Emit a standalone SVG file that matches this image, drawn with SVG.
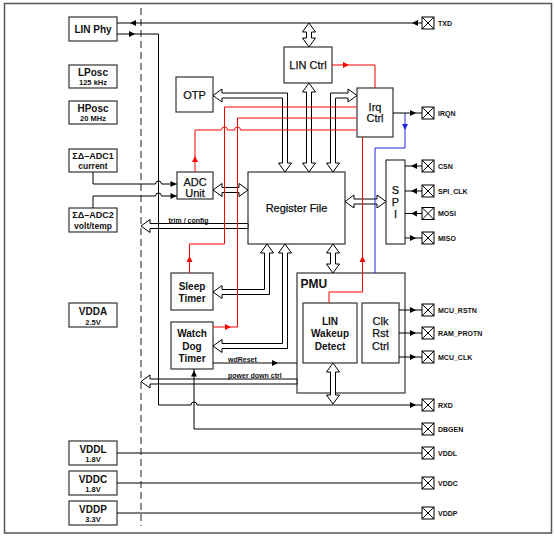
<svg xmlns="http://www.w3.org/2000/svg" width="554" height="536" viewBox="0 0 554 536">
<defs>
<style>
.frame{fill:#fff;stroke:#555;stroke-width:1.5}
.dash{fill:none;stroke:#555;stroke-width:1.3;stroke-dasharray:7,4}
.box{fill:#fff;stroke:#333;stroke-width:1.2}
.ln{fill:none;stroke:#000;stroke-width:1}
.red{fill:none;stroke:#f00;stroke-width:1}
.blue{fill:none;stroke:#2222dd;stroke-width:1}
.bus{fill:#fff;stroke:#000;stroke-width:1;stroke-linejoin:miter}
.t{font-family:"Liberation Sans",Arial,sans-serif;fill:#111;text-anchor:middle}
.n11{font-size:11px;stroke:#111;stroke-width:0.25}
.b10{font-size:10px;font-weight:bold}
.b9{font-size:9px;font-weight:bold}
.b85{font-size:8.5px;font-weight:bold}
.s75{font-size:7.5px;font-weight:bold}
.pl{font-family:"Liberation Sans",Arial,sans-serif;font-size:7px;font-weight:bold;fill:#111}
.lab{font-family:"Liberation Sans",Arial,sans-serif;font-size:7px;font-weight:bold;fill:#111}
.pad{fill:#fff;stroke:#000;stroke-width:1}
</style>
<path id="ah" d="M0,0 L-6,-3 L-6,3 Z" fill="#000"/>
<path id="ahr" d="M0,0 L-6,-3 L-6,3 Z" fill="#f00"/>
<path id="ahb" d="M0,0 L-6,-3 L-6,3 Z" fill="#2222dd"/>
<g id="padsym"><rect class="pad" x="0" y="-6" width="12" height="12"/><path class="ln" d="M0,-6 L12,6 M0,6 L12,-6"/></g>
</defs>

<rect class="frame" x="4.5" y="3.5" width="547" height="529.5"/>
<line class="dash" x1="141" y1="8" x2="141" y2="526"/>

<g id="lin-phy"><rect class="box" x="69" y="17" width="48" height="24"/><text class="t b10" x="93" y="32.5">LIN Phy</text></g>
<g id="lposc"><rect class="box" x="69" y="65" width="48" height="23"/><text class="t b10" x="93" y="76">LPosc</text><text class="t s75" x="93" y="85">125 kHz</text></g>
<g id="hposc"><rect class="box" x="69" y="101" width="48" height="23"/><text class="t b10" x="93" y="112">HPosc</text><text class="t s75" x="93" y="121">20 MHz</text></g>
<g id="adc1"><rect class="box" x="69" y="149" width="48" height="23"/><text class="t b9" x="93" y="158.5">ΣΔ–ADC1</text><text class="t b85" x="93" y="168.5">current</text></g>
<g id="adc2"><rect class="box" x="69" y="208" width="48" height="24"/><text class="t b9" x="93" y="218">ΣΔ–ADC2</text><text class="t b85" x="93" y="228.5">volt/temp</text></g>
<g id="vdda"><rect class="box" x="69" y="303" width="48" height="24"/><text class="t b10" x="93" y="315">VDDA</text><text class="t s75" x="93" y="324.5">2.5V</text></g>
<g id="vddl"><rect class="box" x="69" y="441" width="48" height="24"/><text class="t b10" x="93" y="452.5">VDDL</text><text class="t s75" x="93" y="462">1.8V</text></g>
<g id="vddc"><rect class="box" x="69" y="471" width="48" height="24"/><text class="t b10" x="93" y="482.5">VDDC</text><text class="t s75" x="93" y="492">1.8V</text></g>
<g id="vddp"><rect class="box" x="69" y="501" width="48" height="24"/><text class="t b10" x="93" y="512.5">VDDP</text><text class="t s75" x="93" y="522">3.3V</text></g>

<g id="otp"><rect class="box" x="176" y="77" width="37" height="35"/><text class="t n11" x="194.5" y="98.5">OTP</text></g>
<g id="lin-ctrl"><rect class="box" x="284" y="47" width="48" height="36"/><text class="t n11" x="308" y="69">LIN Ctrl</text></g>
<g id="irq-ctrl"><rect class="box" x="357" y="88" width="36" height="49"/><text class="t n11" x="375" y="110.5">Irq</text><text class="t n11" x="375" y="122">Ctrl</text></g>
<g id="adc-unit"><rect class="box" x="177" y="172" width="36" height="27"/><text class="t n11" x="195" y="186">ADC</text><text class="t n11" x="195" y="197">Unit</text></g>
<g id="register-file"><rect class="box" x="248" y="172" width="97" height="72"/><text class="t n11" x="296.5" y="212">Register File</text></g>
<g id="spi"><rect class="box" x="386" y="160" width="19" height="84"/><text class="t n11" x="395.5" y="193.5">S</text><text class="t n11" x="395.5" y="205.5">P</text><text class="t n11" x="395.5" y="217.5">I</text></g>
<g id="sleep-timer"><rect class="box" x="171" y="273" width="42" height="37"/><text class="t b10" x="192" y="289.5">Sleep</text><text class="t b10" x="192" y="302">Timer</text></g>
<g id="watchdog-timer"><rect class="box" x="171" y="322" width="42" height="47"/><text class="t b10" x="192" y="337">Watch</text><text class="t b10" x="192" y="349.5">Dog</text><text class="t b10" x="192" y="361.5">Timer</text></g>
<g id="pmu"><rect class="box" x="297" y="273" width="108" height="120"/><text class="t" style="font-size:12px;font-weight:bold;text-anchor:start" x="300.5" y="287.5">PMU</text></g>
<g id="lin-wakeup"><rect class="box" x="303" y="303" width="54" height="60"/><text class="t b10" x="330" y="324.5">LIN</text><text class="t b10" x="330" y="337">Wakeup</text><text class="t b10" x="330" y="349.5">Detect</text></g>
<g id="clk-rst-ctrl"><rect class="box" x="362" y="303" width="37" height="60"/><text class="t n11" x="380.5" y="324.5">Clk</text><text class="t n11" x="380.5" y="337">Rst</text><text class="t n11" x="380.5" y="349.5">Ctrl</text></g>

<g id="connectors">
<g id="buses">
<polygon class="bus" points="309,23 315.5,32 311.5,32 311.5,38 315.5,38 309,47 302.5,38 306.5,38 306.5,32 302.5,32"/>
<polygon class="bus" points="309,83 315.5,92 311.5,92 311.5,163 315.5,163 309,172 302.5,163 306.5,163 306.5,92 302.5,92"/>
<polygon class="bus" points="213,95.5 222,89 222,93 287.5,93 287.5,163 291.5,163 285,172 278.5,163 282.5,163 282.5,98 222,98 222,102"/>
<polygon class="bus" points="333,172 339.5,163 335.5,163 335.5,98 348,98 348,102 357,95.5 348,89 348,93 330.5,93 330.5,163 326.5,163"/>
<polygon class="bus" points="213,190 222,183.5 222,187.5 239,187.5 239,183.5 248,190 239,196.5 239,192.5 222,192.5 222,196.5"/>
<polygon class="bus" points="345,201.5 354,195 354,199 377,199 377,195 386,201.5 377,208 377,204 354,204 354,208"/>
<polygon class="bus" points="141,226 150,219.5 150,223.5 248,223.5 248,228.5 150,228.5 150,232.5"/>
<polygon class="bus" points="333,244 339.5,253 335.5,253 335.5,264 339.5,264 333,273 326.5,264 330.5,264 330.5,253 326.5,253"/>
<polygon class="bus" points="267,244 273.5,253 269.5,253 269.5,294.5 222,294.5 222,298.5 213,292 222,285.5 222,289.5 264.5,289.5 264.5,253 260.5,253"/>
<polygon class="bus" points="285,244 291.5,253 287.5,253 287.5,348.5 222,348.5 222,352.5 213,346 222,339.5 222,343.5 282.5,343.5 282.5,253 278.5,253"/>
<polygon class="bus" points="141,381.5 150,375 150,379 297,379 297,384 150,384 150,388"/>
<polygon class="bus" points="333,363 339.5,372 335.5,372 335.5,395 339.5,395 333,404 326.5,395 330.5,395 330.5,372 326.5,372"/>
</g>
<g id="irq-lines">
<path class="red" d="M332,65 L375,65 L375,88"/>
<use href="#ahr" transform="translate(349,65)"/>
<path class="red" d="M357,107 L224.5,107 L224.5,244 L189.5,244 L189.5,273"/>
<use href="#ahr" transform="translate(189.5,256) rotate(-90)"/>
<path class="red" d="M357,118 L237.5,118 L237.5,327 L213,327"/>
<use href="#ahr" transform="translate(231,327)"/>
<path class="red" d="M357,130 L240.5,130 A3,3 0 0 0 234.5,130 L227.5,130 A3,3 0 0 0 221.5,130 L195,130 L195,172"/>
<use href="#ahr" transform="translate(195,156) rotate(-90)"/>
<path class="red" d="M329,303 L329,292 L362.5,292 L362.5,137"/>
<use href="#ahr" transform="translate(362.5,256) rotate(-90)"/>
<path class="blue" d="M405,113 L405,148 L375,148 L375,273"/>
<use href="#ahb" transform="translate(405,130) rotate(90)"/>
</g>
<g id="signals">
<path class="ln" d="M117,23 L422,23"/>
<use href="#ah" transform="translate(130,23) rotate(180)"/>
<use href="#ah" transform="translate(412,23) rotate(180)"/>
<path class="ln" d="M117,34 L158.5,34 L158.5,405 L191,405 A3,3 0 0 1 197,405 L422,405"/>
<use href="#ah" transform="translate(135,34)"/>
<use href="#ah" transform="translate(416,405)"/>
<path class="ln" d="M93,172 L93,184 L155.5,184 A3,3 0 0 1 161.5,184 L177,184"/>
<use href="#ah" transform="translate(176.5,184)"/>
<path class="ln" d="M93,208 L93,196 L155.5,196 A3,3 0 0 1 161.5,196 L177,196"/>
<use href="#ah" transform="translate(176.5,196)"/>
<path class="ln" d="M393,113 L422,113"/>
<use href="#ah" transform="translate(416,113)"/>
<path class="ln" d="M405,166 L422,166 M405,191 L422,191 M405,213.5 L422,213.5 M405,238 L422,238"/>
<use href="#ah" transform="translate(411,166) rotate(180)"/>
<use href="#ah" transform="translate(411,191) rotate(180)"/>
<use href="#ah" transform="translate(411,213.5) rotate(180)"/>
<use href="#ah" transform="translate(416,238)"/>
<path class="ln" d="M399,310 L422,310 M399,333 L422,333 M399,357 L422,357"/>
<use href="#ah" transform="translate(416,310)"/>
<use href="#ah" transform="translate(416,333)"/>
<use href="#ah" transform="translate(416,357)"/>
<path class="ln" d="M213,363 L297,363"/>
<use href="#ah" transform="translate(278,363)"/>
<path class="ln" d="M422,429 L194,429 L194,369"/>
<use href="#ah" transform="translate(194,370.5) rotate(-90)"/>
<path class="ln" d="M117,453 L422,453 M117,483 L422,483 M117,513 L422,513"/>
</g>
<g id="connector-labels">
<text class="lab" x="168.5" y="222.5">trim / config</text>
<text class="lab" x="228" y="361.5">wdReset</text>
<text class="lab" x="228" y="378">power down ctrl</text>
</g>
</g>

<g id="pad-txd"><use href="#padsym" x="422" y="23"/><text class="pl" x="438" y="25.5">TXD</text></g>
<g id="pad-irqn"><use href="#padsym" x="422" y="113"/><text class="pl" x="438" y="115.5">IRQN</text></g>
<g id="pad-csn"><use href="#padsym" x="422" y="166"/><text class="pl" x="438" y="168.5">CSN</text></g>
<g id="pad-spi-clk"><use href="#padsym" x="422" y="191"/><text class="pl" x="438" y="193.5">SPI_CLK</text></g>
<g id="pad-mosi"><use href="#padsym" x="422" y="213.5"/><text class="pl" x="438" y="216">MOSI</text></g>
<g id="pad-miso"><use href="#padsym" x="422" y="238"/><text class="pl" x="438" y="240.5">MISO</text></g>
<g id="pad-mcu-rstn"><use href="#padsym" x="422" y="310"/><text class="pl" x="438" y="312.5">MCU_RSTN</text></g>
<g id="pad-ram-protn"><use href="#padsym" x="422" y="333"/><text class="pl" x="438" y="335.5">RAM_PROTN</text></g>
<g id="pad-mcu-clk"><use href="#padsym" x="422" y="357"/><text class="pl" x="438" y="359.5">MCU_CLK</text></g>
<g id="pad-rxd"><use href="#padsym" x="422" y="405"/><text class="pl" x="438" y="407.5">RXD</text></g>
<g id="pad-dbgen"><use href="#padsym" x="422" y="429"/><text class="pl" x="438" y="431.5">DBGEN</text></g>
<g id="pad-vddl"><use href="#padsym" x="422" y="453"/><text class="pl" x="438" y="455.5">VDDL</text></g>
<g id="pad-vddc"><use href="#padsym" x="422" y="483"/><text class="pl" x="438" y="485.5">VDDC</text></g>
<g id="pad-vddp"><use href="#padsym" x="422" y="513"/><text class="pl" x="438" y="515.5">VDDP</text></g>
</svg>
